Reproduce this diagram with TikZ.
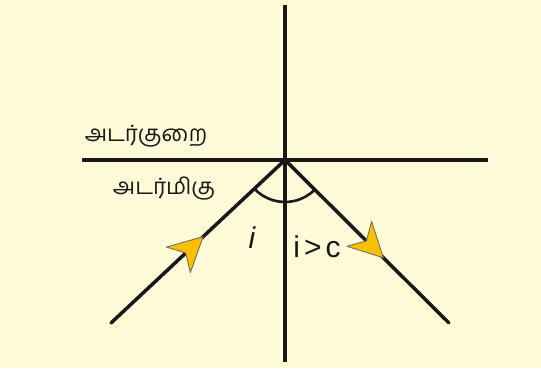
\documentclass[tikz,border=0pt]{standalone}
\usepackage{fontspec}
\setmainfont{Liberation Sans}
\newfontfamily\tamilfont[Script=Tamil]{Hind Madurai}
\definecolor{mycream}{RGB}{255,250,215}
\definecolor{myyellow}{RGB}{250,192,0}
\definecolor{myink}{RGB}{25,25,25}

\begin{document}
\begin{tikzpicture}[x=1pt,y=1pt,
  ray/.style={line width=3.5pt,draw=myink},
  arrowhd/.style={fill=myyellow,draw=black!60,line width=0.8pt,line join=round},
  tamillabel/.style={text=myink,inner sep=0pt,font=\tamilfont\fontsize{22.5}{26}\selectfont},
  latinlabel/.style={text=myink,inner sep=0pt,font=\fontsize{30}{34}\selectfont}]
\def\rarc{42}
\def\angi{43.1}
\def\angr{-44.8}
  \fill[mycream] (0,0) rectangle (541,368);
  \useasboundingbox (0,0) rectangle (541,368);
  \coordinate (O)     at (285,208);
  \coordinate (top)   at (285,363);
  \coordinate (bot)   at (285,6);
  \coordinate (left)  at (82,208);
  \coordinate (right) at (488,208);
  \coordinate (A)     at (111,45);
  \coordinate (B)     at (449,45);
  \draw[ray] (top) -- (bot);
  \draw[ray] (left) -- (right);
  \draw[ray,line cap=round] (A) -- (O) -- (B);
  \draw[line width=2.6pt,draw=myink] (O) ++(180+\angi:\rarc) arc[start angle=180+\angi, end angle=360+\angr, radius=\rarc];
  \path (A) -- (O) coordinate[pos=0.53] (tipA);
  \path (O) -- (B) coordinate[pos=0.60] (tipB);
  \foreach \p/\a in {tipA/\angi,tipB/\angr}
    {
     \filldraw[arrowhd,shift={(\p)},rotate=\a] (0,0) -- (-34,17.5) -- (-24,0) -- (-34,-17.5) -- cycle;
    }
  \node[tamillabel] (rare)  at (146,232) {அடர்குறை};
  \node[tamillabel] (dense) at (164,179) {அடர்மிகு};
  \node[latinlabel] (inc)   at (252,130) {\itshape i};
  \node[latinlabel] (crit)  at (317,121) {i\kern4pt>\kern4pt c};
\end{tikzpicture}
\end{document}
